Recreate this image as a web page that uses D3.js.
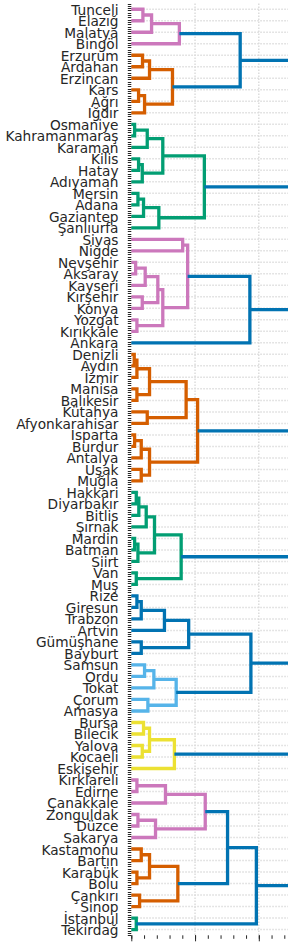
<!DOCTYPE html>
<html>
<head>
<meta charset="utf-8">
<script src="https://cdn.jsdelivr.net/npm/d3@7"></script>
<style>
  html, body { margin: 0; padding: 0; background: #fff; overflow: hidden; }
</style>
</head>
<body>
<div id="dendrogram"></div>
<script>
// Leaf order, top to bottom
const provinces = [
    "Tunceli", "Elazığ", "Malatya", "Bingöl", "Erzurum", "Ardahan", "Erzincan", "Kars", "Ağrı", "Iğdır",
    "Osmaniye", "Kahramanmaraş", "Karaman", "Kilis", "Hatay", "Adıyaman", "Mersin", "Adana", "Gaziantep", "Şanlıurfa",
    "Sivas", "Niğde", "Nevşehir", "Aksaray", "Kayseri", "Kırşehir", "Konya", "Yozgat", "Kırıkkale", "Ankara",
    "Denizli", "Aydın", "İzmir", "Manisa", "Balıkesir", "Kütahya", "Afyonkarahisar", "Isparta", "Burdur", "Antalya",
    "Uşak", "Muğla", "Hakkari", "Diyarbakır", "Bitlis", "Şırnak", "Mardin", "Batman", "Siirt", "Van",
    "Muş", "Rize", "Giresun", "Trabzon", "Artvin", "Gümüşhane", "Bayburt", "Samsun", "Ordu", "Tokat",
    "Çorum", "Amasya", "Bursa", "Bilecik", "Yalova", "Kocaeli", "Eskişehir", "Kırklareli", "Edirne", "Çanakkale",
    "Zonguldak", "Düzce", "Sakarya", "Kastamonu", "Bartın", "Karabük", "Bolu", "Çankırı", "Sinop", "İstanbul",
    "Tekirdağ"
];

// linkage rows (scipy style): [left id, right id, distance]; ids >= 81 point to earlier rows
const linkage = [
    [0, 1, 0.91], [81, 2, 1.59], [82, 3, 3.77], [4, 5, 0.88], [84, 6, 1.43],
    [7, 8, 0.57], [86, 9, 1.04], [85, 87, 3.23], [83, 88, 8.54],
    [10, 11, 0.26], [90, 12, 1.25], [13, 14, 0.57], [92, 15, 0.86], [91, 93, 2.47],
    [16, 17, 0.52], [95, 18, 0.96], [96, 19, 2.16], [94, 97, 5.73],
    [20, 21, 4.03], [22, 23, 0.34], [100, 24, 1.09], [25, 26, 0.86], [101, 102, 2.08],
    [27, 28, 0.44], [103, 104, 2.47], [99, 105, 4.42], [106, 29, 9.30],
    [30, 31, 0.23], [108, 32, 0.44], [33, 34, 0.44], [109, 110, 1.43], [35, 36, 1.25],
    [111, 112, 4.30], [37, 38, 0.26], [114, 39, 0.78], [40, 41, 0.78], [115, 116, 1.43],
    [113, 117, 5.20],
    [42, 43, 0.39], [119, 44, 0.59], [120, 45, 1.17], [46, 47, 0.26], [122, 48, 0.52],
    [121, 123, 1.82], [49, 50, 0.39], [124, 125, 3.91],
    [51, 52, 0.44], [127, 53, 0.78], [128, 54, 2.60], [55, 56, 0.78], [129, 130, 4.50],
    [57, 58, 1.04], [132, 59, 1.77], [60, 61, 1.30], [133, 134, 3.52], [131, 135, 9.38],
    [62, 63, 0.96], [64, 65, 0.86], [137, 138, 1.43], [139, 66, 3.38],
    [67, 68, 0.44], [141, 69, 2.68], [70, 71, 0.52], [143, 72, 1.90], [142, 144, 5.80],
    [73, 74, 0.78], [75, 76, 0.44], [146, 147, 1.43], [77, 78, 0.65], [148, 149, 3.65],
    [145, 150, 7.55], [79, 80, 0.39], [151, 152, 9.81],
    [89, 98, 13.6], [107, 118, 13.9], [126, 136, 13.3], [140, 153, 12.9],
    [154, 155, 16.2], [156, 157, 17.1], [158, 159, 21.4]
];

const colorThreshold = 6.5;
const clusterColors = ["#cc78bc", "#d55e00", "#029e73", "#cc78bc", "#d55e00", "#029e73",
                       "#0173b2", "#56b4e9", "#ece133", "#cc78bc", "#d55e00", "#029e73"];
const aboveColor = "#0173b2";

document.addEventListener("DOMContentLoaded", function () {
    const width = 288;
    const height = 947;
    const marginLeft = 131.3;
    const plotTop = 3.5;
    const plotBottom = 935.3;
    const n = provinces.length;

    const svg = d3.select("#dendrogram")
        .append("svg")
        .attr("width", width)
        .attr("height", height)
        .attr("style", "display:block; font-family: 'DejaVu Sans', sans-serif;");

    const x = d3.scaleLinear()
        .domain([0, 25])
        .range([marginLeft, marginLeft + 25 * 12.75]);

    // scipy puts leaf i at 10*i + 5
    const y = d3.scaleLinear()
        .domain([0, 10 * n])
        .range([plotTop, plotBottom]);

    // build nodes
    const nodes = provinces.map((name, i) => ({ id: i, name: name, dist: 0, pos: 10 * i + 5 }));
    linkage.forEach(([a, b, d], k) => {
        nodes.push({
            id: n + k,
            left: nodes[a],
            right: nodes[b],
            dist: d,
            pos: (nodes[a].pos + nodes[b].pos) / 2
        });
    });
    const root = nodes[nodes.length - 1];

    // colour clusters below threshold, in leaf order
    let ci = 0;
    function paint(node, color) {
        if (!node.left) return;
        if (color == null && node.dist < colorThreshold) {
            color = clusterColors[ci++ % clusterColors.length];
        }
        node.color = color || aboveColor;
        paint(node.left, color);
        paint(node.right, color);
    }
    paint(root, null);

    // grid
    const grid = svg.append("g")
        .attr("stroke", "#dcdcdc")
        .attr("stroke-width", 1.5)
        .attr("stroke-dasharray", "1.5,1.5");

    grid.selectAll("line.h")
        .data(provinces)
        .join("line")
        .attr("class", "h")
        .attr("x1", marginLeft)
        .attr("x2", width)
        .attr("y1", (d, i) => y(10 * i + 5))
        .attr("y2", (d, i) => y(10 * i + 5));

    grid.selectAll("line.v")
        .data(x.ticks(5).filter(t => t > 0))
        .join("line")
        .attr("class", "v")
        .attr("x1", d => x(d))
        .attr("x2", d => x(d))
        .attr("y1", plotTop)
        .attr("y2", plotBottom);

    // links
    const internal = nodes.filter(d => d.left);
    svg.append("g")
        .attr("fill", "none")
        .attr("stroke-width", 3.3)
        .selectAll("path")
        .data(internal)
        .join("path")
        .attr("stroke", d => d.color)
        .attr("d", d => `M${x(d.left.dist)},${y(d.left.pos)}H${x(d.dist)}V${y(d.right.pos)}H${x(d.right.dist)}`);

    // y axis ticks (no spine)
    const yTicks = svg.append("g")
        .attr("stroke", "#262626")
        .attr("stroke-width", 1);
    yTicks.selectAll("line")
        .data(y.ticks(320))
        .join("line")
        .attr("x1", marginLeft - 3.5)
        .attr("x2", marginLeft)
        .attr("y1", d => Math.round(y(d)) + 0.5)
        .attr("y2", d => Math.round(y(d)) + 0.5);

    // labels
    svg.append("g")
        .attr("font-size", "13.7px")
        .attr("fill", "#262626")
        .attr("text-anchor", "end")
        .selectAll("text")
        .data(provinces)
        .join("text")
        .attr("x", 118.5)
        .attr("y", (d, i) => y(10 * i + 5))
        .attr("dy", "0.4em")
        .text(d => d);

    // x axis ticks
    const xAxis = svg.append("g")
        .attr("transform", `translate(0,${plotBottom})`);
    xAxis.call(d3.axisBottom(x).ticks(5).tickSize(6).tickFormat(""));
    xAxis.append("g")
        .call(d3.axisBottom(x).ticks(25).tickSize(3.5).tickFormat(""));
    xAxis.selectAll(".domain").remove();
    xAxis.selectAll("line").attr("stroke", "#262626");
});
</script>
</body>
</html>
